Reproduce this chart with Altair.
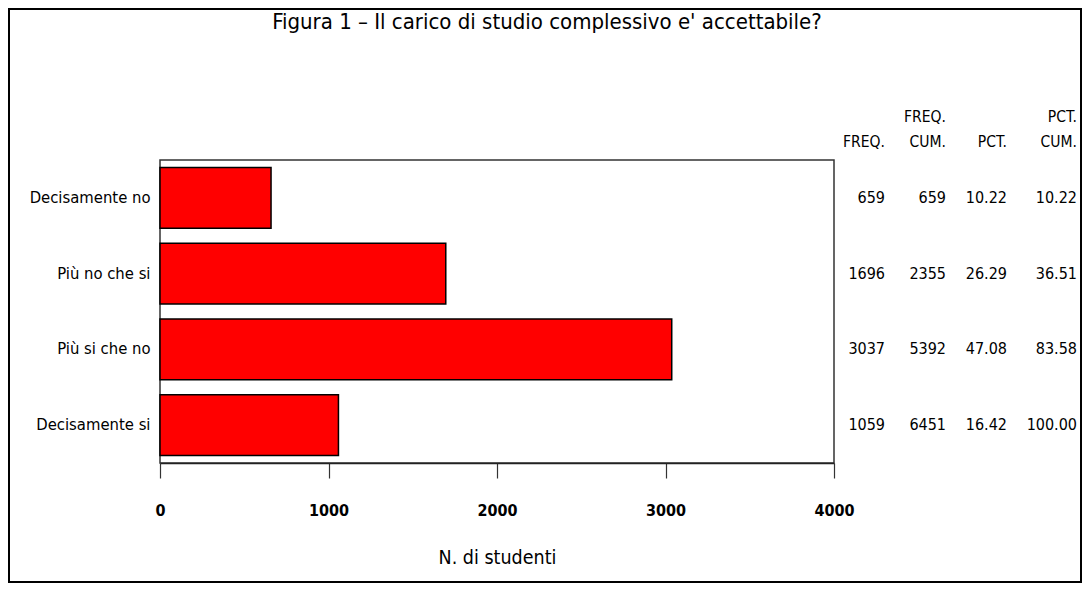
import altair as alt
import pandas as pd

# ---- data ----
categories = ["Decisamente no", "Più no che si", "Più si che no", "Decisamente si"]
freq = [659, 1696, 3037, 1059]
freq_cum = [659, 2355, 5392, 6451]
pct = [10.22, 26.29, 47.08, 16.42]
pct_cum = [10.22, 36.51, 83.58, 100.00]
x_ticks = [0, 1000, 2000, 3000, 4000]
title_text = "Figura 1 – Il carico di studio complessivo e' accettabile?"
x_title = "N. di studenti"
head_top = ["", "FREQ.", "", "PCT."]
head_bottom = ["FREQ.", "CUM.", "PCT.", "CUM."]

# ---- layout ----
W, H = 674, 303
PAD_L, PAD_T = 152, 152
TOTAL_W, TOTAL_H = 1075, 576
PAD_R = TOTAL_W - PAD_L - W
PAD_B = TOTAL_H - PAD_T - H
col_x = [885 - 160, 946 - 160, 1007 - 160, 1077 - 160]

COND = "DejaVu Sans Condensed, DejaVu Sans, sans-serif"

df = pd.DataFrame({
    "cat": categories,
    "freq": freq,
    "freq_cum": [str(v) for v in freq_cum],
    "freq_s": [str(v) for v in freq],
    "pct": [f"{v:.2f}" for v in pct],
    "pct_cum": [f"{v:.2f}" for v in pct_cum],
})

yscale = alt.Scale(domain=categories, paddingInner=0.2, paddingOuter=0.1)
yaxis = alt.Axis(title=None, ticks=False, domain=False, labelFont=COND,
                 labelFontSize=16.5, labelColor="black", labelPadding=10)

bars = alt.Chart(df).mark_bar(color="#FF0000", stroke="black", strokeWidth=1.5).encode(
    x=alt.X("freq:Q",
            scale=alt.Scale(domain=[0, 4000], nice=False),
            axis=alt.Axis(values=x_ticks, tickSize=15, tickColor="#333", tickWidth=1.2,
                          domainColor="#222", domainWidth=1.5, grid=False,
                          labelFont=COND, labelFontSize=16, labelFontWeight="bold",
                          labelColor="black", labelPadding=24, labelFlush=False,
                          format="d",
                          title=x_title, titleFont=COND, titleFontSize=19.5,
                          titleFontWeight="normal", titleColor="black", titlePadding=30)),
    y=alt.Y("cat:N", sort=categories, scale=yscale, axis=yaxis),
)

layers = []
frame = alt.Chart(pd.DataFrame({"k": [0]})).mark_rect(
    fill="white", fillOpacity=0, stroke="black", strokeWidth=2
).encode(
    x=alt.value(-151), x2=alt.value(W + PAD_R - 2),
    y=alt.value(-151), y2=alt.value(H + PAD_B - 2),
)
layers.append(frame)
layers.append(bars)

for field, cx in zip(["freq_s", "freq_cum", "pct", "pct_cum"], col_x):
    layers.append(
        alt.Chart(df).mark_text(align="right", baseline="middle", font=COND,
                                fontSize=16, color="black").encode(
            x=alt.value(cx),
            y=alt.Y("cat:N", sort=categories, scale=yscale, axis=yaxis),
            text=f"{field}:N",
        )
    )

for i in range(len(col_x)):
    one = pd.DataFrame({"top": [head_top[i]], "bottom": [head_bottom[i]]})
    if head_top[i]:
        layers.append(alt.Chart(one).mark_text(align="right", baseline="middle", font=COND,
                                               fontSize=15.5, color="black").encode(
            x=alt.value(col_x[i]), y=alt.value(117 - 160), text="top:N"))
    layers.append(alt.Chart(one).mark_text(align="right", baseline="middle", font=COND,
                                           fontSize=15.5, color="black").encode(
        x=alt.value(col_x[i]), y=alt.value(142 - 160), text="bottom:N"))

tdf = pd.DataFrame({"t": [title_text]})
layers.append(alt.Chart(tdf).mark_text(align="center", baseline="middle", font=COND,
                                       fontSize=22, color="black").encode(
    x=alt.value(547 - 160), y=alt.value(22 - 160), text="t:N"))

chart = alt.layer(*layers).properties(
    width=W, height=H,
    autosize=alt.AutoSizeParams(type="none"),
    padding={"left": PAD_L, "top": PAD_T, "right": PAD_R, "bottom": PAD_B},
    background="white",
).configure_view(stroke="#333", strokeWidth=1.5)

chart.save("out.html", embed_options={"renderer": "svg", "actions": False})
